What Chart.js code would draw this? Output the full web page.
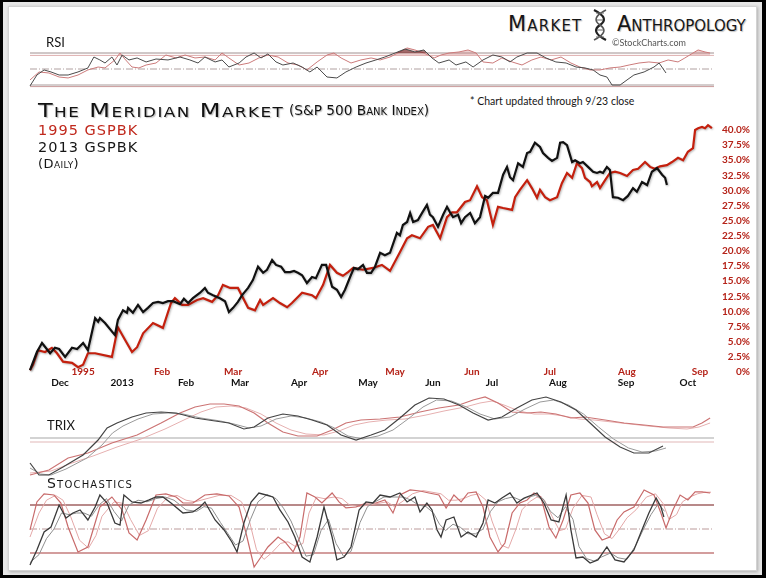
<!DOCTYPE html>
<html><head><meta charset="utf-8">
<script src="https://cdn.jsdelivr.net/npm/chart.js@4.4.0/dist/chart.umd.min.js"></script>
<style>
html,body{margin:0;padding:0;background:#000;width:766px;height:578px;overflow:hidden;position:relative}
#bg{position:absolute;left:3px;top:2px;width:759px;height:573px;background:#e6e6e6}
#panel{position:absolute;left:8px;top:6px;width:747px;height:563px;background:#fff;border:1px solid #d2d2d2;box-shadow:1px 1px 3px rgba(0,0,0,.25)}
canvas{position:absolute;left:0}
.t{position:absolute;white-space:nowrap;line-height:1;color:#161616}
.sc{font-family:"DejaVu Sans",sans-serif;font-variant:small-caps;text-shadow:1px 1px 1px rgba(0,0,0,.25)}
.g{font-family:Lato,"Liberation Sans",sans-serif}
</style></head><body>
<div id="bg"></div><div id="panel"></div>
<canvas id="rsi" width="766" height="48" style="top:43px"></canvas>
<canvas id="main" width="766" height="280" style="top:115px"></canvas>
<canvas id="trix" width="766" height="90" style="top:390px"></canvas>
<canvas id="stoch" width="766" height="85" style="top:485px"></canvas>

<div class="t sc" style="left:508px;top:14px;font-size:21px;letter-spacing:1.2px">Market</div>
<svg style="position:absolute;left:590px;top:9px" width="20" height="32" viewBox="0 0 20 32">
<path d="M4,1 C16,7 16,12 10,16 C4,20 4,25 16,31" fill="none" stroke="#222" stroke-width="2.2"/>
<path d="M16,1 C4,7 4,12 10,16 C16,20 16,25 4,31" fill="none" stroke="#555" stroke-width="1.6"/>
<path d="M6,4 L14,4 M7,11 L13,11 M7,21 L13,21 M6,28 L14,28" stroke="#666" stroke-width="1"/>
</svg>
<div class="t sc" style="left:617px;top:14px;font-size:21px;">Anthropology</div>
<div class="t g" style="left:612px;top:38px;font-size:9px;color:#555">©StockCharts.com</div>
<div class="t g" style="left:46px;top:36px;font-size:13px;">RSI</div>
<div class="t sc" style="left:38px;top:100px;font-size:20px;letter-spacing:1.2px;transform:scaleX(1.2);transform-origin:0 0;color:#111">The Meridian Market</div>
<div class="t sc" style="left:289px;top:104px;font-size:13.7px;color:#111">(S&amp;P 500 Bank Index)</div>
<div class="t sc" style="left:38px;top:123px;font-size:14.5px;letter-spacing:1px;color:#c0281c;text-shadow:none">1995 GSPBK</div>
<div class="t sc" style="left:38px;top:140px;font-size:14.5px;letter-spacing:1px;text-shadow:none">2013 GSPBK</div>
<div class="t sc" style="left:38px;top:157px;font-size:13px;letter-spacing:0.4px;text-shadow:none">(Daily)</div>
<div class="t g" style="left:470px;top:96px;font-size:10.5px;">* Chart updated through 9/23 close</div>
<div class="t g" style="left:47px;top:419px;font-size:13px;">TRIX</div>
<div class="t sc" style="left:47px;top:476px;font-size:14px;letter-spacing:1.2px;text-shadow:none">Stochastics</div>

<script>
// ---- x: trading sessions from start of window (0..228) ----
const sessionMin = 0, sessionMax = 228;
// month tick labels (red = 1995 overlay, black = 2013)
const months1995 = ['1995','Feb','Mar','Apr','May','Jun','Jul','Aug','Sep'];
const months1995At = [17.7,44,67.7,96.7,121.7,147.3,173.3,199,223.3];
const months2013 = ['Dec','2013','Feb','Mar','Apr','May','Jun','Jul','Aug','Sep','Oct'];
const months2013At = [10,30.7,52,70,89.7,112.7,134.3,154,176,198.7,219.3];
// percent axis
const pctMin = 0, pctMax = 40, pctStep = 2.5;

// ---- main: % gain, [session, pct] ----
const gspbk2013 = [[0,0.3],[2.3,3.3],[4,4.8],[6.7,3.1],[8.3,4.0],[9.7,3.8],[11.7,2.5],[14,4.0],[15.7,3.8],[17.7,4.8],[19.3,3.6],[21.7,8.9],[22.7,8.3],[23.3,8.9],[25,8.1],[28.3,6.1],[29.3,8.6],[31,10.2],[32.3,9.8],[32.7,10.6],[34.3,9.8],[36,11.1],[37.7,9.9],[39.3,10.6],[41,11.4],[42.7,11.6],[44.3,11.4],[46,11.7],[47.7,11.7],[50,11.2],[51.3,12.1],[52.7,11.4],[54.3,12.2],[56.7,13.1],[58.3,13.9],[59.3,13.1],[61,12.7],[63.3,12.2],[65,11.7],[66.3,9.9],[67.7,10.6],[69.3,11.6],[70.7,12.7],[72.7,13.9],[74.3,15.2],[76,17.4],[77.7,16.4],[79,16.9],[80.7,18.5],[82,17.7],[83.7,17.4],[85,16.5],[86.7,16.5],[88,16.7],[89.3,16.4],[90.7,16.0],[92.3,14.7],[94,15.7],[95.3,15.5],[97.3,17.7],[98.7,17.7],[100.7,14.1],[102.3,13.6],[103.7,12.4],[105,13.6],[106.7,15.7],[108,17.2],[109.3,17.0],[111,17.7],[112.3,16.4],[113.7,16.4],[115,17.4],[116.7,19.7],[118.3,19.3],[120,19.7],[122.3,23.0],[123.3,22.6],[124.3,24.3],[125.7,24.8],[126.7,26.3],[127.7,24.8],[129.3,25.1],[130.7,26.3],[132.3,27.6],[133.3,26.0],[134.3,25.6],[136,24.0],[137.7,26.0],[139,27.3],[140,26.4],[141,25.6],[142.7,26.0],[143.7,24.6],[145,25.6],[146.7,26.3],[148.3,24.6],[150,25.6],[151.7,29.1],[152.7,28.8],[154.3,29.6],[156,29.6],[157.7,32.6],[159,33.9],[160,32.2],[161,31.7],[162.7,34.5],[164.3,33.9],[165.7,36.2],[166.7,36.4],[168.3,37.9],[170,37.2],[171,36.2],[172.7,35.4],[174,34.9],[175.7,35.4],[176.7,37.9],[177.7,38.0],[179,37.5],[180.7,34.7],[181.7,35.0],[183.3,34.5],[184.3,34.7],[186,33.9],[187.7,33.1],[189,32.9],[190,33.1],[191,32.9],[192.3,33.9],[193.3,33.4],[194.3,28.9],[196,28.8],[197.7,28.4],[199.3,29.1],[201,30.4],[202.3,29.8],[204,31.4],[205.7,30.9],[207.3,33.1],[209,33.7],[210.7,32.6],[211.7,32.1],[212.3,30.9]];
const gspbk1995 = [[0,0.3],[1,1.2],[2.7,3.6],[5,3.3],[7.3,4.0],[9,3.1],[11,1.7],[14,1.5],[16,0.8],[17.7,1.2],[19.3,3.1],[21.7,3.1],[27.3,2.5],[29.3,7.4],[31.7,5.3],[34,3.3],[35.7,4.1],[37.7,6.4],[41,8.1],[44.3,7.3],[47,11.4],[48.3,12.2],[50.7,11.1],[52.7,11.1],[55.7,11.9],[57.7,12.2],[60.7,11.6],[62.7,12.7],[64.3,14.4],[66.7,13.9],[69.3,13.9],[72.7,10.6],[75,10.2],[76.7,11.9],[77.7,11.1],[81,12.2],[83.3,11.4],[85.7,10.7],[87.3,11.4],[90.7,13.1],[94,12.7],[95.3,12.2],[97.7,14.4],[100,17.7],[102.3,16.4],[104.3,15.9],[106,16.5],[107.7,17.2],[111,16.9],[114.3,17.2],[117.3,17.7],[120,16.7],[123.3,19.8],[125.7,22.1],[127.3,22.6],[130,22.1],[132.7,24.0],[134.3,24.3],[136.7,22.1],[139,25.6],[140.7,26.4],[142.3,26.4],[145,28.1],[146.7,28.4],[149,30.7],[150.7,28.9],[152.3,28.4],[154.3,24.3],[156,27.3],[157.7,27.1],[160.7,26.8],[161.7,28.9],[163.3,30.1],[165.7,31.7],[167.3,30.4],[169,28.8],[170,30.1],[171.7,28.9],[173.3,28.4],[175.7,28.9],[177.3,31.2],[179,32.9],[180.7,32.1],[182.3,34.5],[184,33.7],[185,32.1],[186.7,31.4],[187.3,30.7],[189,31.4],[190,30.4],[191.7,31.7],[193.3,32.9],[195,33.1],[196.7,32.9],[199,32.4],[201,33.4],[202.7,33.6],[205,34.7],[206.7,33.9],[208.3,33.6],[210,34.0],[212.3,34.2],[214,34.7],[216,35.4],[217.7,35.0],[219.3,36.4],[221,37.0],[221.7,40.0],[222.7,40.3],[224,40.5],[225,40.3],[226,40.8],[227.3,40.3]];

// ---- RSI ----
const rsi2013 = [[0,28.8],[2.3,42.5],[4.7,48.8],[7,46.3],[9.7,42.5],[12.7,42.5],[16,46.3],[19.3,51.3],[21.3,65],[23.3,61.3],[25,57.5],[27.3,65],[29,55],[30.7,67.5],[33,61.3],[35.7,63.8],[38.7,58.8],[42,62.5],[46,61.3],[50,65],[53.3,61.3],[56,57.5],[58.3,65],[61.7,58.8],[64,61.3],[66.3,52.5],[69.7,57.5],[72,65],[74.7,70],[77,63.8],[79.3,68.8],[82,58.8],[84.3,55],[87.7,57.5],[90.7,52.5],[93.3,46.3],[95.7,52.5],[99,40],[102.3,38.8],[105.3,46.3],[108.7,52.5],[112,57.5],[115.3,61.3],[118.3,65],[121.7,70],[125,75],[128.3,71.3],[131.3,73.8],[134,63.8],[136.3,57.5],[139.7,61.3],[142,55],[145.3,58.8],[147.7,52.5],[151,61.3],[154.3,67.5],[157.3,65],[160,58.8],[162.3,65],[165.7,70],[169,70],[172,63.8],[175.3,58.8],[178.7,57.5],[182,52.5],[185,51.3],[187.7,48.8],[190,42.5],[192.3,40],[194,30],[196.7,30],[199,36.3],[201.3,42.5],[204.7,46.3],[208,52.5],[209.7,57.5],[212,45]];
const rsi1995 = [[0,36.3],[3,46.3],[6.3,45],[9.7,40],[12.7,38.8],[16,42.5],[19.3,48.8],[22.7,52.5],[25,51.3],[28.3,61.3],[30,70],[31.3,63.8],[34,52.5],[36.3,51.3],[38.7,55],[42,57.5],[45.3,67.5],[48.7,63.8],[51.7,67.5],[55,63.8],[58.3,65],[61.7,61.3],[64,70],[66.3,63.8],[69.7,55],[73,57.5],[76.3,63.8],[79.3,67.5],[82.7,65],[86,57.5],[89.3,55],[92.3,48.8],[95.7,58.8],[99,67.5],[101.3,70],[103.7,63.8],[107,57.5],[110.3,61.3],[113.7,63.8],[116.7,61.3],[120,65],[123.3,71.3],[125.7,76.3],[128.3,73.8],[131.3,70],[134.7,63.8],[137,67.5],[139.7,70],[143,71.3],[146,73.8],[148.7,70],[151,58.8],[154.3,57.5],[157.3,63.8],[160.7,58.8],[164,55],[167.3,61.3],[170.3,65],[173.7,61.3],[177,65],[180.3,57.5],[183.3,52.5],[186.7,48.8],[190,48.8],[193.3,51.3],[196.7,52.5],[199.7,55],[203,57.5],[206.3,58.8],[209.7,57.5],[212.7,61.3],[216,58.8],[218.3,63.8],[221,70],[222.7,73.8],[225,71.3],[226.7,70]];
const rsiLevels2013 = [70, 50, 30];
const rsiLevels1995 = [67, 50, 28];

// ---- TRIX ----
const trix2013 = [[0,-0.25],[3,-0.37],[6.3,-0.37],[11,-0.29],[17.7,-0.17],[22.7,-0.02],[25.7,0.10],[29,0.15],[34,0.21],[38.7,0.25],[43.7,0.26],[48.7,0.25],[55,0.20],[61.7,0.17],[66.3,0.15],[71.3,0.09],[74.7,0.11],[79.3,0.20],[84.3,0.24],[89.3,0.22],[94,0.18],[99,0.13],[103.7,0.03],[108.7,-0.02],[113.7,0.03],[118.3,0.08],[123.3,0.20],[128.3,0.33],[133,0.40],[138,0.39],[143,0.33],[147.7,0.25],[152.7,0.18],[157.3,0.21],[162.3,0.30],[167.3,0.38],[172,0.41],[177,0.36],[182,0.28],[186.7,0.15],[191.7,0.01],[196.7,-0.09],[201.3,-0.15],[206.3,-0.15],[211,-0.08]];
const trixSignal2013 = [[0,-0.30],[3.5,-0.36],[7,-0.37],[12,-0.31],[19,-0.20],[24,-0.07],[27.5,0.05],[31,0.12],[36,0.19],[41,0.24],[46,0.25],[51,0.24],[57,0.20],[63.5,0.17],[68,0.14],[73,0.10],[77,0.12],[82,0.19],[87,0.22],[92,0.20],[97,0.16],[101.5,0.10],[106,0.02],[111,-0.01],[116,0.02],[121,0.08],[126,0.19],[131,0.31],[135.5,0.38],[140.5,0.37],[145.5,0.31],[150,0.24],[155,0.19],[160,0.21],[165,0.29],[170,0.36],[174.5,0.38],[179.5,0.33],[184.5,0.24],[189.5,0.11],[194.5,-0.01],[199.5,-0.10],[204,-0.14],[208.5,-0.13],[212,-0.10]];
const trix1995 = [[0,-0.37],[6.3,-0.32],[12.7,-0.20],[19.3,-0.15],[27.3,-0.05],[35.7,0.03],[43.7,0.15],[50,0.25],[55,0.31],[60,0.34],[64.7,0.34],[69.7,0.32],[74.7,0.25],[79.3,0.15],[84.3,0.06],[89.3,0.02],[95.7,0.02],[100.7,0.08],[105.3,0.15],[110.3,0.18],[116.7,0.19],[123.3,0.21],[130,0.26],[136.3,0.30],[143,0.33],[147.7,0.38],[151.7,0.41],[156,0.35],[160.7,0.26],[165.7,0.25],[170.3,0.26],[175.3,0.24],[180.3,0.20],[185,0.21],[191.7,0.18],[198,0.15],[204.7,0.13],[211,0.11],[217.7,0.11],[221,0.11],[224,0.15],[226.7,0.20]];
const trixSignal1995 = [[0,-0.35],[7,-0.33],[14,-0.25],[21,-0.18],[29,-0.09],[37,-0.01],[45,0.09],[52,0.19],[57,0.26],[62,0.31],[67,0.32],[72,0.30],[77,0.24],[82,0.15],[87,0.08],[92,0.04],[98,0.03],[103,0.07],[108,0.13],[113,0.16],[119,0.18],[125,0.19],[132,0.23],[138,0.27],[145,0.31],[150,0.35],[154,0.37],[158,0.33],[163,0.27],[168,0.24],[173,0.24],[178,0.22],[183,0.19],[188,0.18],[194,0.16],[200,0.14],[206,0.12],[213,0.10],[219,0.09],[223,0.11],[226.7,0.15]];
const trixLevels = [0, -0.04];

// ---- Stochastics ----
const stochK2013 = [[0,5],[2.3,23.8],[4.7,46.3],[7,52.5],[9.7,80],[12,63.8],[14.3,70],[16.7,73.8],[19.3,61.3],[21.7,77.5],[23.3,92.5],[25.7,82.5],[28.3,57.5],[30,55],[31.3,92.5],[34,83.8],[37,82.5],[39.7,86.3],[42,90],[44.3,90],[47,82.5],[51,70],[54.3,71.3],[56.7,77.5],[58.3,83.8],[61.7,61.3],[64.7,48.8],[67.3,33.8],[69,21.3],[71.3,57.5],[73.7,83.8],[76.3,95],[78.7,92.5],[81,90],[83.3,73.8],[86,58.8],[88.3,40],[90.7,15],[93.3,8.8],[95.7,40],[98,77.5],[100.7,40],[102.3,11.3],[104.7,15],[107,27.5],[109.7,73.8],[112,83.8],[114.3,82.5],[116.7,92.5],[120,90],[123.3,95],[125.7,83.8],[128.3,90],[130,71.3],[132.3,82.5],[134,73.8],[135.7,48.8],[137,40],[138.7,61.3],[141.3,65],[143.7,40],[146,46.3],[148.7,40],[151,57.5],[152.7,86.3],[155,82.5],[157.3,88.8],[160,95],[162.3,82.5],[164.7,88.8],[167.3,92.5],[169,95],[171.3,82.5],[173.7,61.3],[176.3,58.8],[178.7,92.5],[180.3,48.8],[182,13.8],[184.3,15],[186.7,7.5],[189.3,11.3],[192.3,27.5],[195,11.3],[198,8.8],[201.3,23.8],[203.7,46.3],[206.3,70],[208.7,88.8],[210.3,77.5],[211.3,65]];
const stochD2013 = [[0,8],[3,18],[5.5,38],[8,50],[10.5,70],[13,68],[15.5,70],[18,70],[20.5,66],[23,80],[25.5,88],[28,72],[30.5,60],[33,80],[36,86],[39,84],[42,88],[45,90],[48,86],[52,74],[55.5,72],[58,78],[60.5,76],[63.5,58],[66,44],[68.5,30],[71,35],[73.5,62],[76,84],[79,93],[82,88],[84.5,76],[87,60],[89.5,38],[92,16],[94.5,18],[97,48],[99.5,62],[102,32],[104.5,16],[107,22],[110,58],[112.5,78],[115,84],[118,90],[121,90],[124.5,90],[127,86],[129.5,80],[132,78],[134.5,70],[136.5,56],[138.5,48],[141,56],[143.5,52],[146,44],[148.5,44],[151,50],[153.5,72],[156,84],[158.5,88],[161,90],[163.5,86],[166,90],[168.5,92],[171,88],[173.5,72],[176,64],[178.5,78],[181,62],[183,28],[185.5,13],[188,10],[190.5,15],[193.5,20],[196,14],[199,12],[202,30],[204.5,50],[207,68],[209.5,82],[211.5,72]];
const stochK1995 = [[0,48.8],[2.3,83.8],[4.7,93.8],[8,92.5],[10.3,82.5],[12.7,52.5],[16,21.3],[19.3,27.5],[21.7,57.5],[23.3,77.5],[27.3,90],[30.7,73.8],[33,45],[35.7,36.3],[38.7,61.3],[42,92.5],[45.3,93.8],[48.7,90],[51,82.5],[54.3,82.5],[58.3,92.5],[62.3,93.8],[66.3,91.3],[69.7,77.5],[72,45],[74.7,2.5],[77,15],[79.3,27.5],[82.7,40],[85,33.8],[87.7,21.3],[90,40],[92.3,95],[95,90],[97.3,82.5],[100.7,95],[103,83.8],[105.3,76.3],[108.7,77.5],[112,82.5],[115.3,82.5],[118.3,86.3],[121,70],[123.3,92.5],[126.7,98.8],[130,97.5],[133,95],[136.3,92.5],[138.7,76.3],[141.3,92.5],[143.7,83.8],[146,95],[148.7,96.3],[151,77.5],[153.3,40],[156,21.3],[158.3,32.5],[160.7,70],[163.3,82.5],[165.7,86.3],[168,95],[170.3,90],[173,52.5],[175.3,38.8],[177.7,61.3],[180.3,92.5],[183.3,95],[186,82.5],[188.3,48.8],[190.7,36.3],[193.3,40],[195.7,61.3],[198,71.3],[201.3,77.5],[204.7,98.8],[208,92.5],[210.3,70],[212,51.3],[214.3,73.8],[216.7,92.5],[219.3,86.3],[221.7,96.3],[224,96.3],[226.7,95]];
const stochD1995 = [[0,40],[3,70],[5.5,86],[8.5,92],[11,86],[13.5,66],[16.5,36],[19.5,26],[22,42],[24,66],[28,84],[31,82],[33.5,62],[36.5,42],[39.5,48],[42.5,76],[46,90],[49,92],[52,86],[55,84],[59,88],[63,92],[67,92],[70.5,84],[73,62],[75.5,24],[78,12],[80.5,20],[83.5,32],[86,34],[88.5,28],[91,32],[93,70],[95.5,90],[98,88],[101.5,90],[104,88],[106.5,80],[109.5,78],[113,80],[116,82],[119,84],[121.5,78],[124,84],[127.5,94],[131,98],[134,96],[137,94],[139.5,86],[142,86],[144.5,88],[147,92],[149.5,94],[152,86],[154,60],[157,30],[159.5,26],[162,50],[164,74],[166.5,84],[169,90],[171.5,86],[174,66],[176.5,48],[178.5,50],[181,76],[184,92],[187,90],[189,68],[191.5,44],[194,38],[196.5,50],[199,64],[202,74],[205.5,90],[208.5,94],[211,82],[213,62],[215.5,68],[217.5,84],[220,90],[222.5,94],[225,96],[227,96]];
const stochLevels = [80, 50, 20];

// ---------- helpers ----------
const pts = a => a.map(p => ({x: p[0], y: p[1]}));
const hline = v => [{x: sessionMin, y: v}, {x: sessionMax, y: v}];
const line = (data, color, width, extra) => Object.assign({data: pts(data), borderColor: color, borderWidth: width, pointRadius: 0, tension: 0, fill: false, clip: false}, extra || {});
const level = (v, color, width, dash) => ({data: hline(v), borderColor: color, borderWidth: width, borderDash: dash || [], pointRadius: 0, fill: false, clip: false});
const hiddenX = {type: 'linear', min: sessionMin, max: sessionMax, display: false};
const baseOpts = (ymin, ymax) => ({
  responsive: false, animation: false, devicePixelRatio: 1,
  layout: {padding: {left: 30, right: 52, top: 0, bottom: 0}},
  plugins: {legend: {display: false}, tooltip: {enabled: false}},
  scales: {x: hiddenX, y: {type: 'linear', min: ymin, max: ymax, display: false}}
});
const dashDot = [7, 2, 1, 2];

// ---------- RSI ----------
new Chart(document.getElementById('rsi'), {
  type: 'line',
  data: {datasets: [
    line(rsi2013, '#4a4a4a', 1, {fill: {target: {value: rsiLevels2013[0]}, above: 'rgba(110,35,35,0.6)', below: 'rgba(0,0,0,0)'}}),
    line(rsi1995, '#cc7b7b', 1, {fill: {target: {value: rsiLevels1995[0]}, above: 'rgba(205,120,120,0.35)', below: 'rgba(0,0,0,0)'}}),
    level(rsiLevels2013[0], '#a09090', 1),
    level(rsiLevels1995[0], '#e0b4b4', 1),
    level(rsiLevels2013[1], '#b0a0a0', 1, dashDot),
    level(rsiLevels2013[2], '#a89a9a', 1),
    level(rsiLevels1995[2], '#c99a9a', 1)
  ]},
  options: baseOpts(22.5, 82.5)
});

// ---------- MAIN ----------
const tickFontCss = 'bold 10px Lato, "Liberation Sans", sans-serif';
const tickFont = {family: 'Lato, "Liberation Sans", sans-serif', weight: 'bold', size: 10};
const shadow = {id: 'shadow',
  beforeDatasetsDraw(c) { const x = c.ctx; x.save(); x.shadowColor = 'rgba(0,0,0,0.28)'; x.shadowBlur = 2; x.shadowOffsetX = 1; x.shadowOffsetY = 1; },
  afterDatasetsDraw(c) { c.ctx.restore(); }};
// second (1995) month row, placed through the x scale, sitting on the 0% line
const months1995Row = {id: 'months1995Row',
  afterDraw(c) {
    const ctx = c.ctx, xs = c.scales.x;
    ctx.save();
    ctx.font = tickFontCss; ctx.fillStyle = '#b52218'; ctx.textAlign = 'center'; ctx.textBaseline = 'middle';
    months1995.forEach((m, i) => ctx.fillText(m, xs.getPixelForValue(months1995At[i]), c.chartArea.bottom - 0.5));
    ctx.restore();
  }};
new Chart(document.getElementById('main'), {
  type: 'line',
  data: {datasets: [
    line(gspbk2013, '#111111', 2.2),
    line(gspbk1995, '#c4200e', 2.2)
  ]},
  options: {
    responsive: false, animation: false, devicePixelRatio: 1,
    layout: {padding: {left: 30, right: 16, top: 15, bottom: 0}},
    plugins: {legend: {display: false}, tooltip: {enabled: false}},
    scales: {
      x: {type: 'linear', position: 'bottom', min: sessionMin, max: sessionMax,
        grid: {display: false, drawTicks: false}, border: {display: false},
        afterBuildTicks: s => { s.ticks = months2013At.map(v => ({value: v})); },
        afterFit: s => { s.height = 23; },
        ticks: {autoSkip: false, maxRotation: 0, padding: 5, color: '#111', font: tickFont, callback: (v, i) => months2013[i]}},
      y: {type: 'linear', position: 'right', min: pctMin, max: pctMax,
        grid: {display: false, drawTicks: false}, border: {display: false},
        afterFit: s => { s.width = 36; },
        ticks: {stepSize: pctStep, autoSkip: false, crossAlign: 'far', padding: 0, color: '#b52218', font: tickFont,
          callback: v => v === 0 ? '0%' : v.toFixed(1) + '%'}}
    }
  },
  plugins: [shadow, months1995Row]
});

// ---------- TRIX ----------
new Chart(document.getElementById('trix'), {
  type: 'line',
  data: {datasets: [
    line(trix2013, '#444', 1.2),
    line(trixSignal2013, '#9a9a9a', 1),
    line(trix1995, '#cc7474', 1.2),
    line(trixSignal1995, '#e6b0b0', 1),
    level(trixLevels[0], '#a8a8a8', 1.2),
    level(trixLevels[1], '#e2b8b8', 1.2)
  ]},
  options: baseOpts(-0.42, 0.48)
});

// ---------- STOCHASTICS ----------
new Chart(document.getElementById('stoch'), {
  type: 'line',
  data: {datasets: [
    line(stochK2013, '#3a3a3a', 1.3),
    line(stochD2013, '#8e8e8e', 1),
    line(stochK1995, '#c86a6a', 1.2),
    line(stochD1995, '#e4a8a8', 1),
    level(stochLevels[0], '#a06262', 1.3),
    level(stochLevels[1], '#bb9a9a', 1, dashDot),
    level(stochLevels[2], '#c47c7c', 1.3)
  ]},
  options: baseOpts(-1.25, 105)
});
</script>
</body></html>
